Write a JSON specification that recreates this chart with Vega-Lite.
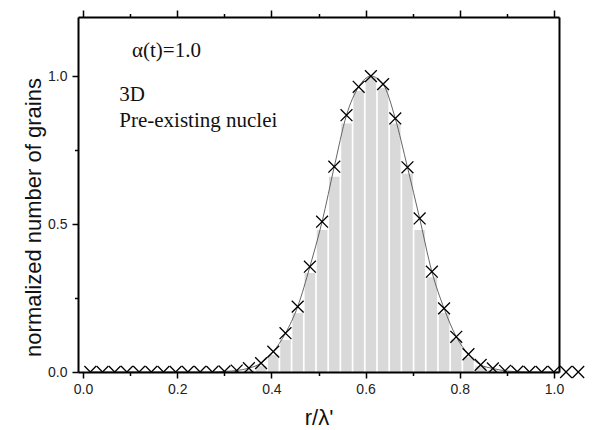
{
  "$schema": "https://vega.github.io/schema/vega-lite/v6.json",
  "width": 481,
  "height": 355,
  "autosize": {"type": "none"},
  "padding": {"left": 78, "top": 17, "right": 33, "bottom": 58},
  "background": "white",
  "config": {
    "view": {"stroke": null},
    "axis": {
      "grid": false,
      "labelFont": "Liberation Sans",
      "titleFont": "Liberation Sans",
      "labelColor": "#222",
      "titleColor": "#111",
      "titleFontWeight": "normal",
      "tickColor": "black",
      "domainColor": "black",
      "domainWidth": 2,
      "tickWidth": 1.5
    }
  },
  "datasets": {
    "pts": [
      {"x": 0.0155, "y": 0}, {"x": 0.0414, "y": 0}, {"x": 0.0673, "y": 0}, {"x": 0.0932, "y": 0},
      {"x": 0.1191, "y": 0}, {"x": 0.145, "y": 0}, {"x": 0.1709, "y": 0}, {"x": 0.1968, "y": 0},
      {"x": 0.2227, "y": 0}, {"x": 0.2486, "y": 0}, {"x": 0.2745, "y": 0}, {"x": 0.3004, "y": 0.002},
      {"x": 0.3263, "y": 0.005}, {"x": 0.3522, "y": 0.013}, {"x": 0.3781, "y": 0.03}, {"x": 0.404, "y": 0.069},
      {"x": 0.4299, "y": 0.131}, {"x": 0.4558, "y": 0.221}, {"x": 0.4817, "y": 0.356}, {"x": 0.5076, "y": 0.508},
      {"x": 0.5335, "y": 0.694}, {"x": 0.5594, "y": 0.868}, {"x": 0.5853, "y": 0.964}, {"x": 0.6112, "y": 1.0},
      {"x": 0.6371, "y": 0.973}, {"x": 0.663, "y": 0.857}, {"x": 0.6889, "y": 0.692}, {"x": 0.7148, "y": 0.519},
      {"x": 0.7407, "y": 0.339}, {"x": 0.7666, "y": 0.215}, {"x": 0.7925, "y": 0.119}, {"x": 0.8184, "y": 0.06},
      {"x": 0.8443, "y": 0.024}, {"x": 0.8702, "y": 0.012}, {"x": 0.8961, "y": 0.004}, {"x": 0.922, "y": 0.001},
      {"x": 0.9479, "y": 0}, {"x": 0.9738, "y": 0}, {"x": 0.9997, "y": 0}, {"x": 1.0256, "y": 0},
      {"x": 1.0515, "y": 0}
    ],
    "bars": [
      {"x": 0.3522, "h": 0.006}, {"x": 0.3781, "h": 0.02}, {"x": 0.404, "h": 0.058}, {"x": 0.4299, "h": 0.108},
      {"x": 0.4558, "h": 0.199}, {"x": 0.4817, "h": 0.335}, {"x": 0.5076, "h": 0.48}, {"x": 0.5335, "h": 0.66},
      {"x": 0.5594, "h": 0.84}, {"x": 0.5853, "h": 0.95}, {"x": 0.6112, "h": 0.995}, {"x": 0.6371, "h": 0.96},
      {"x": 0.663, "h": 0.84}, {"x": 0.6889, "h": 0.67}, {"x": 0.7148, "h": 0.48}, {"x": 0.7407, "h": 0.32},
      {"x": 0.7666, "h": 0.2}, {"x": 0.7925, "h": 0.11}, {"x": 0.8184, "h": 0.05}, {"x": 0.8443, "h": 0.02},
      {"x": 0.8702, "h": 0.007}
    ],
    "notes": [
      {"label": "α(t)=1.0", "x": 0.104, "y": 1.064},
      {"label": "3D", "x": 0.077, "y": 0.916},
      {"label": "Pre-existing nuclei", "x": 0.077, "y": 0.828}
    ]
  },
  "layer": [
    {
      "data": {"name": "bars"},
      "mark": {"type": "bar", "color": "#d9d9d9", "size": 10.5, "clip": true},
      "encoding": {
        "x": {
          "field": "x", "type": "quantitative",
          "scale": {"domain": [0, 1], "nice": false, "zero": false},
          "axis": {"orient": "bottom", "values": [0, 0.2, 0.4, 0.6, 0.8, 1.0], "format": ".1f", "tickSize": 6, "labelFontSize": 14, "labelPadding": 4, "title": "r/λ'", "titleFontSize": 22, "titlePadding": 11, "zindex": 1, "labelFlush": false}
        },
        "y": {
          "field": "h", "type": "quantitative",
          "scale": {"domain": [0, 1.2], "nice": false},
          "axis": {"orient": "left", "values": [0, 0.5, 1.0], "format": ".1f", "tickSize": 6, "labelFontSize": 14, "labelPadding": 5, "title": "normalized number of grains", "titleFontSize": 22, "titlePadding": 2, "titleY": 200, "zindex": 1, "labelFlush": false}
        }
      }
    },
    {
      "data": {"name": "pts"},
      "mark": {"type": "line", "color": "#555", "strokeWidth": 0.9, "interpolate": "monotone", "clip": true},
      "encoding": {
        "x": {"field": "x", "type": "quantitative",
          "axis": {"orient": "bottom", "values": [0.1, 0.3, 0.5, 0.7, 0.9], "tickSize": 3.5, "labels": false, "domain": false, "title": null}},
        "y": {"field": "y", "type": "quantitative",
          "axis": {"orient": "left", "values": [0.25, 0.75], "tickSize": 3.5, "labels": false, "domain": false, "title": null}}
      }
    },
    {
      "data": {"name": "pts"},
      "mark": {"type": "point", "shape": "M-1,-1L1,1M-1,1L1,-1", "size": 140, "filled": false, "stroke": "black", "strokeWidth": 1.3, "opacity": 1, "clip": true},
      "encoding": {
        "x": {"field": "x", "type": "quantitative",
          "axis": {"orient": "top", "values": [0, 0.2, 0.4, 0.6, 0.8, 1.0], "tickSize": 7, "labels": false, "title": null, "zindex": 1}},
        "y": {"field": "y", "type": "quantitative",
          "axis": {"orient": "right", "ticks": false, "labels": false, "title": null, "zindex": 1}}
      }
    },
    {
      "data": {"name": "pts"},
      "transform": [{"filter": "datum.x > 1"}],
      "mark": {"type": "point", "shape": "M-1,-1L1,1M-1,1L1,-1", "size": 140, "filled": false, "stroke": "black", "strokeWidth": 1.3, "opacity": 1},
      "encoding": {
        "x": {"field": "x", "type": "quantitative",
          "axis": {"orient": "top", "values": [0.1, 0.3, 0.5, 0.7, 0.9], "tickSize": 3.5, "labels": false, "domain": false, "title": null}},
        "y": {"field": "y", "type": "quantitative", "axis": null}
      }
    },
    {
      "data": {"name": "notes"},
      "mark": {"type": "text", "font": "Liberation Serif", "fontSize": 21, "align": "left", "baseline": "alphabetic", "color": "#111"},
      "encoding": {
        "x": {"field": "x", "type": "quantitative", "axis": null},
        "y": {"field": "y", "type": "quantitative", "axis": null},
        "text": {"field": "label"}
      }
    }
  ],
  "resolve": {"axis": {"x": "independent", "y": "independent"}}
}
